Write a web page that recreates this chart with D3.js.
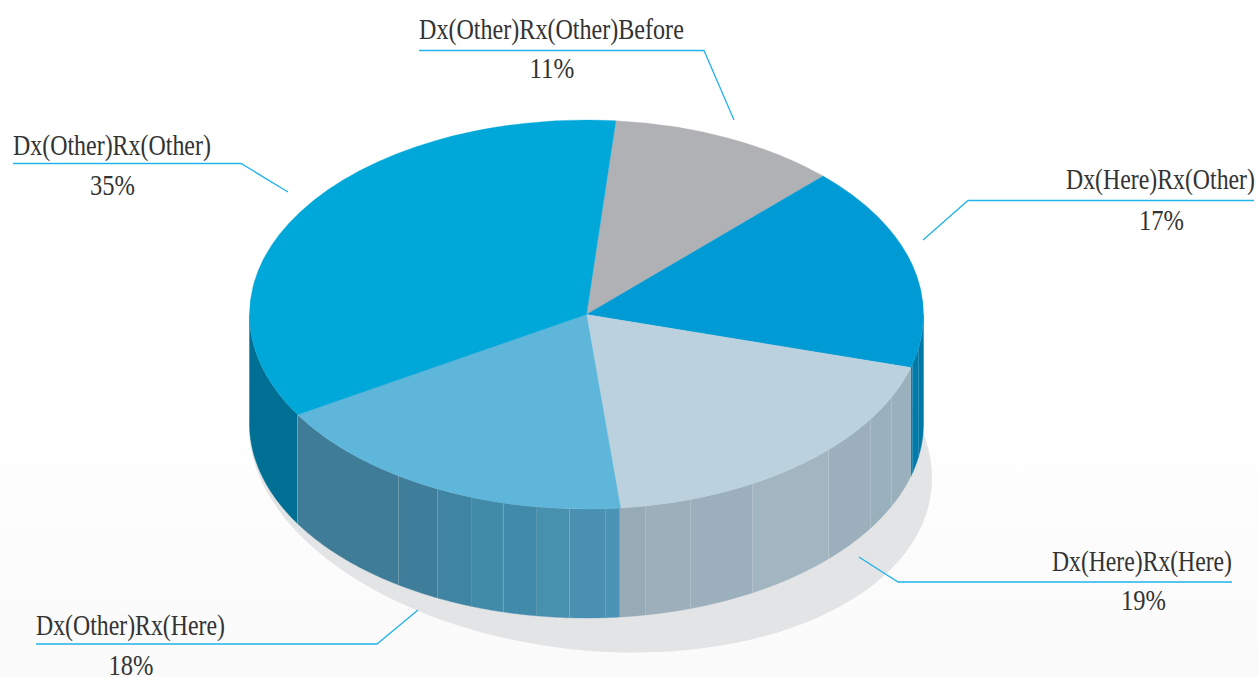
<!DOCTYPE html>
<html><head><meta charset="utf-8">
<script src="https://cdn.jsdelivr.net/npm/d3@7/dist/d3.min.js"></script>
<style>html,body{margin:0;padding:0;background:#fff;overflow:hidden}svg{display:block}</style>
</head><body><svg id="c" width="1258" height="677"></svg>
<script>
const categories = ["Dx(Other)Rx(Other)Before","Dx(Here)Rx(Other)","Dx(Here)Rx(Here)","Dx(Other)Rx(Here)","Dx(Other)Rx(Other)"];
const values = [11,17,19,18,35];
const topColors = ["#b0b1b5","#009ad5","#bbd1de","#5eb6da","#00a7d9"];
// side-wall facets: start/end angle in degrees clockwise from 12 o'clock, with shade
const facetStarts = [90,100,104.5,105.8,115.2,122.5,134.1,150.5,162,169.9,174.4,176.8,182.9,188.5,194.3,200,206.2,213.9,239];
const facetEnds   = [100,104.5,105.8,115.2,122.5,134.1,150.5,162,169.9,174.4,176.8,182.9,188.5,194.3,200,206.2,213.9,239,270];
const facetFills  = ["#0079a6","#007aa8","#0078a5","#9bb0bd","#9bb0bd","#9bafbd","#a1b6c1","#9cafbc","#9cafba","#97abb6","#4c94b5","#4a90b0","#4790ae","#428aa9","#418aa8","#3f84a2","#3f7e9a","#3e7c98","#006f94"];
const seamStrength = [0.1,0.15,0.1,0.14,0.14,0.18,0.18,0.16,0.14,0,0.12,0.22,0.08,0.22,0.05,0.2,0.18,0.35];
const labelX = [419,1066,1052,36,13];
const labelW = [265,189,180,189,198];
const labelY = [38.5,189,570.5,635,155];
const pctX = [552,1161.5,1143.5,131,112.5];
const pctY = [78,230,610,675,195];
const leaders = [
 [[419,50.5],[704,50.5],[734,120]],
 [[1254,200.5],[968,200.5],[923,240]],
 [[1232,582],[898,582],[859,557]],
 [[36,644],[377,644],[418,610]],
 [[13,163.5],[241,163.5],[288,192]]
];

const cx=586.5, cy=314.5, rx=337, ry=194.5, depth=109;
const svg=d3.select("#c");
const defs=svg.append("defs");
const g=defs.append("linearGradient").attr("id","bg").attr("x1",0).attr("x2",0).attr("y1",0).attr("y2",1);
g.append("stop").attr("offset","0.55").attr("stop-color","#ffffff");
g.append("stop").attr("offset","1").attr("stop-color","#fafafa");
svg.append("rect").attr("width",1258).attr("height",677).attr("fill","url(#bg)");

// cast shadow: sheared ellipse
svg.append("circle").attr("r",1).attr("fill","#e3e4e6")
  .attr("transform","matrix(341.5,25.5,0,198.4,590.5,452.5)");

const rad=d=>d*Math.PI/180;
const px=a=>cx+rx*Math.sin(a), py=a=>cy-ry*Math.cos(a);
const wall=d3.area().x(d=>px(d)).y0(d=>py(d)).y1(d=>py(d)+depth);

const walls=svg.append("g");
facetStarts.forEach((s,i)=>{
  const pts=d3.range(rad(s),rad(facetEnds[i]),0.01).concat([rad(facetEnds[i])]);
  walls.append("path").attr("d",wall(pts)).attr("fill",facetFills[i]).attr("stroke",facetFills[i]).attr("stroke-width",0.4);
});
// facet seams
facetStarts.slice(1).forEach((s,i)=>{
  const a=rad(s);
  walls.append("line").attr("x1",px(a)).attr("x2",px(a)).attr("y1",py(a)).attr("y2",py(a)+depth)
    .attr("stroke","#ffffff").attr("stroke-opacity",seamStrength[i]).attr("stroke-width",1);
});

const pie=d3.pie().sort(null).startAngle(rad(5.0)).endAngle(rad(365.0));
const arc=d3.arc().innerRadius(0).outerRadius(rx);
const topFace=svg.append("g").attr("transform",`translate(${cx},${cy}) scale(1,${ry/rx})`);
topFace.selectAll("path").data(pie(values)).join("path")
  .attr("d",arc).attr("fill",(d,i)=>topColors[i]).attr("stroke",(d,i)=>topColors[i]).attr("stroke-width",0.4);

const ln=d3.line();
svg.append("g").selectAll("path").data(leaders).join("path")
  .attr("d",ln).attr("fill","none").attr("stroke","#22b3ea").attr("stroke-width",1.3);

const labs=svg.append("g").attr("fill","#333333").attr("font-family","'Liberation Serif',serif").attr("font-size",28.5);
function fitted(str,x,y,w){
  const t=labs.append("text").text(str);
  const len=t.node().getComputedTextLength();
  t.attr("transform",`translate(${x},${y}) scale(${w/len},1)`);
}
categories.forEach((c,i)=>{
  fitted(c,labelX[i],labelY[i],labelW[i]);
  fitted(values[i]+"%",pctX[i]-22.5,pctY[i],45);
});
</script></body></html>
